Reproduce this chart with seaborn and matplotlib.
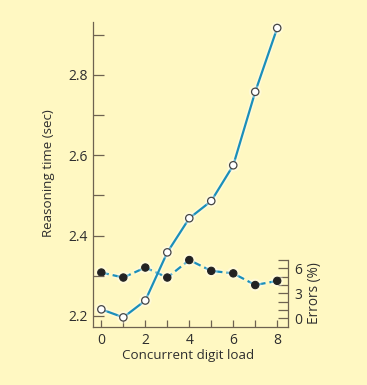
import matplotlib
matplotlib.use("Agg")
import matplotlib.pyplot as plt
import matplotlib.patheffects as pe
from matplotlib.ticker import MultipleLocator, FixedLocator
import seaborn as sns
import pandas as pd

# Data
digit_load = [0, 1, 2, 3, 4, 5, 6, 7, 8]
reasoning_time = [2.216, 2.196, 2.238, 2.358, 2.443, 2.486, 2.575, 2.758, 2.917]
errors_pct = [5.5, 4.9, 6.1, 4.9, 7.0, 5.7, 5.4, 4.0, 4.5]

x_ticks = [0, 2, 4, 6, 8]
y_ticks = [2.2, 2.4, 2.6, 2.8]
err_ticks = [0, 3, 6]

BG = "#FFF8C2"
LINE = "#1A8FBA"
AXC = "#6e6250"
TXT = "#2e2e2e"

sns.set_theme(style="white")
plt.rcParams['font.family'] = ['Open Sans', 'DejaVu Sans']

df = pd.DataFrame({"load": digit_load, "time": reasoning_time, "err": errors_pct})

fig = plt.figure(figsize=(3.67, 3.85), dpi=100, facecolor=BG)
ax = fig.add_axes([0.2534, 0.1506, 0.5313, 0.7923])
ax2 = ax.twinx()
ax.set_zorder(ax2.get_zorder() + 1)
ax.patch.set_visible(False)
ax2.patch.set_facecolor(BG)

glow = [pe.Stroke(linewidth=3.8, foreground="white", alpha=0.35), pe.Normal()]

sns.lineplot(data=df, x="load", y="err", ax=ax2, color=LINE,
             linewidth=1.6, linestyle=(0, (3.4, 1.8)), marker="o", markersize=5.3,
             markerfacecolor="#222222", markeredgecolor="#222222", path_effects=glow)
sns.lineplot(data=df, x="load", y="time", ax=ax, color=LINE, linewidth=1.6,
             marker="o", markersize=5.3, markerfacecolor="white",
             markeredgecolor="#444444", markeredgewidth=0.9, path_effects=glow)

ax.set_xlim(-0.38, 8.49)
ax.set_ylim(2.172, 2.932)
err_lo = -1.04
ax2.set_ylim(err_lo, err_lo + 305 / 8.33)

for s in ["top", "right"]:
    ax.spines[s].set_visible(False)
for s in ["top", "left", "bottom"]:
    ax2.spines[s].set_visible(False)
for s in ["left", "bottom"]:
    ax.spines[s].set_color(AXC)
    ax.spines[s].set_linewidth(0.9)
ax2.spines["right"].set_color(AXC)
ax2.spines["right"].set_linewidth(0.9)
ax2.spines["right"].set_bounds(err_lo, 7)

ax.xaxis.set_major_locator(FixedLocator(x_ticks))
ax.xaxis.set_minor_locator(MultipleLocator(1))
ax.yaxis.set_major_locator(FixedLocator(y_ticks))
ax.yaxis.set_minor_locator(MultipleLocator(0.1))
ax2.yaxis.set_major_locator(FixedLocator(err_ticks))
ax2.yaxis.set_minor_locator(FixedLocator([1, 2, 4, 5, 7]))

ax.tick_params(axis="x", which="both", direction="in", length=5, width=0.9,
               color=AXC, labelsize=10, labelcolor=TXT, pad=4, bottom=True)
ax.tick_params(axis="y", which="both", direction="in", length=8, width=0.9,
               color=AXC, labelsize=10, labelcolor=TXT, pad=3.5, left=True)
ax2.tick_params(axis="y", which="both", direction="in", length=7, width=0.9,
                color=AXC, labelsize=10, labelcolor=TXT, pad=4.5, right=True)
ax.set_xticklabels([str(v) for v in x_ticks])
ax.set_yticklabels([f"{v:.1f}" for v in y_ticks])
ax2.set_yticklabels([str(v) for v in err_ticks])

ax.set_xlabel("Concurrent digit load", fontsize=9.6, color=TXT)
ax.set_ylabel("Reasoning time (sec)", fontsize=9.6, color=TXT)
ax2.set_ylabel("Errors (%)", fontsize=9.8, color=TXT)
ax.xaxis.set_label_coords(0.485, -0.093)
ax.yaxis.set_label_coords(-0.23, 0.505)
ax2.yaxis.set_label_coords(1.138, 0.1115)
ax.xaxis.label.set_va("center")
ax.yaxis.label.set_va("center")
ax2.yaxis.label.set_va("center")

fig.savefig("out.png", dpi=100, facecolor=BG)
